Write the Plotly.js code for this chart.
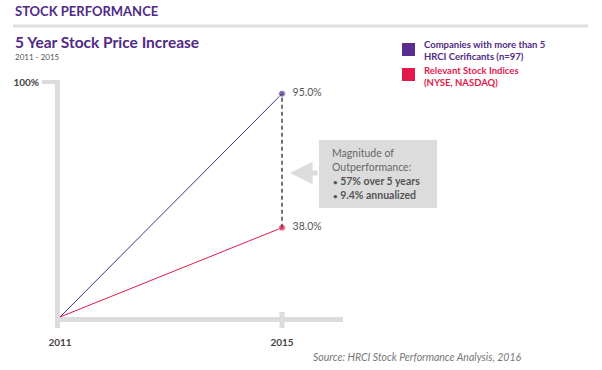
<!DOCTYPE html>
<html>
<head>
<meta charset="utf-8">
<script src="https://cdn.plot.ly/plotly-3.0.1.min.js"></script>
<style>html,body{margin:0;padding:0;background:#fff;}#chart{width:602px;height:370px;}</style>
</head>
<body>
<div id="chart"></div>
<script>
// ---- data ----
const years = [2011, 2015];
const hrciValues = [0, 95.0];
const indexValues = [0, 38.0];
const pointLabelsHrci = ['', '95.0%'];
const pointLabelsIndex = ['', '38.0%'];
const xTickLabels = ['2011', '2015'];
const yTickValues = [100];
const yTickLabels = ['100%'];
const seriesNames = ['Companies with more than 5<br>HRCI Cerificants (n=97)', 'Relevant Stock Indices<br>(NYSE, NASDAQ)'];
const calloutTitle = 'Magnitude of<br>Outperformance:';
const calloutPoints = ['57% over 5 years', '9.4% annualized'];

// ---- style ----
const PURPLE = '#4f2a86';
const RED = '#e3194b';
const AXIS = '#dcdcdc';
const FONT = 'Lato, "Open Sans", sans-serif';
const W = 602, H = 370, M = {l: 40, r: 246, t: 70, b: 35};
const PW = W - M.l - M.r, PH = H - M.t - M.b;
const px = x => (x - M.l) / PW;      // pixel -> paper x
const py = y => (H - M.b - y) / PH;  // pixel -> paper y

const labelTemplate = '\u2002%{text}';

const traces = [
  {x: years, y: hrciValues, mode: 'lines+markers+text', text: pointLabelsHrci, texttemplate: labelTemplate,
   textposition: 'middle right', textfont: {family: FONT, size: 10.5, color: '#555'},
   line: {color: PURPLE, width: 1}, marker: {color: PURPLE, size: [0, 7]},
   showlegend: false, hoverinfo: 'skip', cliponaxis: false},
  {x: years, y: indexValues, mode: 'lines+markers+text', text: pointLabelsIndex, texttemplate: labelTemplate,
   textposition: 'middle right', textfont: {family: FONT, size: 10.5, color: '#555'},
   line: {color: RED, width: 1}, marker: {color: RED, size: [0, 7]},
   showlegend: false, hoverinfo: 'skip', cliponaxis: false},
  {x: [years[1], years[1]], y: [indexValues[1], hrciValues[1]], mode: 'lines',
   line: {color: '#444', width: 1.5, dash: '4px,3px'}, showlegend: false, hoverinfo: 'skip'}
];

const shapes = [
  // header rule
  {type: 'line', xref: 'paper', yref: 'paper', x0: px(13), x1: px(588), y0: py(26), y1: py(26), line: {color: '#dedede', width: 3}},
  // y axis bar
  {type: 'line', xref: 'x', yref: 'y', x0: 2010.955, x1: 2010.955, y0: -4.68, y1: 100.85, line: {color: AXIS, width: 5}, layer: 'below'},
  // 100% tick
  {type: 'line', xref: 'x', yref: 'y', x0: 2010.676, x1: 2010.955, y0: 100, y1: 100, line: {color: AXIS, width: 4}, layer: 'below'},
  // x axis bar
  {type: 'line', xref: 'x', yref: 'y', x0: 2010.91, x1: 2016.099, y0: -1.06, y1: -1.06, line: {color: AXIS, width: 5}, layer: 'below'},
  // 2015 tick
  {type: 'line', xref: 'x', yref: 'y', x0: 2015, x1: 2015, y0: 2.13, y1: -4.68, line: {color: AXIS, width: 5}, layer: 'below'},
  // callout box
  {type: 'rect', xref: 'paper', yref: 'paper', x0: px(319), x1: px(437), y0: py(208), y1: py(140), fillcolor: '#dcdcdc', line: {width: 0}},
  // legend squares
  {type: 'rect', xref: 'paper', yref: 'paper', x0: px(402), x1: px(415), y0: py(56), y1: py(43), fillcolor: '#5a2d91', line: {width: 0}},
  {type: 'rect', xref: 'paper', yref: 'paper', x0: px(402), x1: px(415), y0: py(81), y1: py(68), fillcolor: RED, line: {width: 0}}
];

const ann = (x, y, text, font, extra) => Object.assign({xref: 'paper', yref: 'paper', x: px(x), y: py(y), text: text,
  showarrow: false, xanchor: 'left', yanchor: 'middle', align: 'left', font: Object.assign({family: FONT}, font)}, extra || {});

const bullet = '<span style="font-size:8px">•</span> ';

const annotations = [
  ann(13, 11, '<b>STOCK PERFORMANCE</b>', {size: 13, color: PURPLE}),
  ann(13, 42, '<b>5 Year Stock Price Increase</b>', {size: 15.5, color: PURPLE}),
  ann(13, 57, '2011 - 2015', {size: 8, color: '#555'}),
  ann(422, 50, '<b>' + seriesNames[0] + '</b>', {size: 9.5, color: PURPLE}),
  ann(422, 76, '<b>' + seriesNames[1] + '</b>', {size: 9.5, color: RED}),
  ann(330, 159.5, calloutTitle, {size: 10.5, color: '#666'}),
  ann(331, 188, '<b>' + calloutPoints.map(p => bullet + p).join('<br>') + '</b>', {size: 10.5, color: '#555'}),
  ann(311, 357, '<i>Source: HRCI Stock Performance Analysis, 2016</i>', {size: 10.5, color: '#777'}),
  // arrow pointing left toward the gap
  {xref: 'paper', yref: 'paper', x: px(290), y: py(173), ax: 29, ay: 0, text: '', showarrow: true,
   arrowhead: 2, arrowsize: 0.9, arrowwidth: 5, arrowcolor: '#dcdcdc', standoff: 0}
];

const layout = {
  width: W, height: H, margin: M, paper_bgcolor: '#fff', plot_bgcolor: '#fff',
  showlegend: false,
  xaxis: {range: [2010.6396, 2016.333], tickvals: years, ticktext: xTickLabels, showgrid: false,
          zeroline: false, showline: false, ticks: '', tickfont: {family: FONT, size: 10, color: '#444', weight: 'bold'}, fixedrange: true},
  yaxis: {range: [-7.66, 105.11], tickvals: yTickValues, ticktext: yTickLabels, showgrid: false,
          zeroline: false, showline: false, ticks: '', tickfont: {family: FONT, size: 10, color: '#444', weight: 'bold'}, fixedrange: true},
  shapes: shapes, annotations: annotations
};

Plotly.newPlot('chart', traces, layout, {displayModeBar: false, staticPlot: true});
</script>
</body>
</html>
